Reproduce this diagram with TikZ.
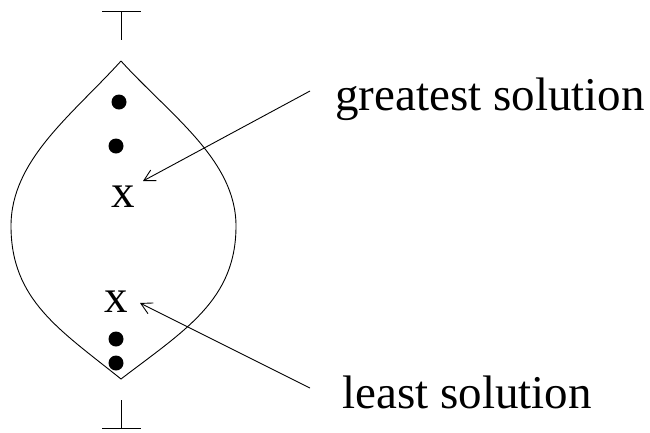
\documentclass[tikz,border=0pt]{standalone}
\usepackage{fontspec}
\setmainfont{Liberation Serif}
\usetikzlibrary{arrows.meta}
\begin{document}
\begin{tikzpicture}[x=1pt,y=-1pt,line width=0.9pt,
  bigtext/.style={inner sep=0pt,font=\fontsize{47}{50}\selectfont},
  dotmark/.style={circle,fill=black,inner sep=0pt,minimum size=15pt},
  pointer/.style={-{Straight Barb[length=11pt,width=12pt,line width=0.9pt]},line width=0.9pt}]
\useasboundingbox (0,0) rectangle (650,432);
% top and bottom symbols
\coordinate (tl) at (102,11); \coordinate (tr) at (141,11);
\coordinate (tm) at (121.5,11); \coordinate (tb) at (121.5,40);
\draw (tl) -- (tr); \draw (tm) -- (tb);
\coordinate (bl) at (102,428); \coordinate (br) at (141,428);
\coordinate (bm) at (121.5,428); \coordinate (bt) at (121.5,400);
\draw (bl) -- (br); \draw (bm) -- (bt);
% leaf
\coordinate (top) at (121,61);
\coordinate (bot) at (121,379);
\coordinate (R) at (236,226);
\coordinate (L) at (11,226);
\draw (top) .. controls (170,115) and (236,160) .. (R)
  .. controls (236,300) and (185,330) .. (bot)
  .. controls (60,330) and (11,300) .. (L)
  .. controls (11,160) and (72,115) .. (top);
% dots
\node[dotmark] (d1) at (119,102) {};
\node[dotmark] (d2) at (116,146) {};
\node[dotmark] (d3) at (116,339) {};
\node[dotmark] (d4) at (116,363) {};
% x marks
\node[bigtext,anchor=base] (xg) at (123.5,207) {x};
\node[bigtext,anchor=base] (xl) at (116,312) {x};
% labels
\node[bigtext,anchor=base west] (g) at (335,110) {greatest solution};
\node[bigtext,anchor=base west] (l) at (342,408) {least solution};
\coordinate (gs) at (310,91); \coordinate (ge) at (143,181);
\coordinate (ls) at (310,388); \coordinate (le) at (140,303);
\draw[pointer] (gs) -- (ge);
\draw[pointer] (ls) -- (le);
\end{tikzpicture}
\end{document}
